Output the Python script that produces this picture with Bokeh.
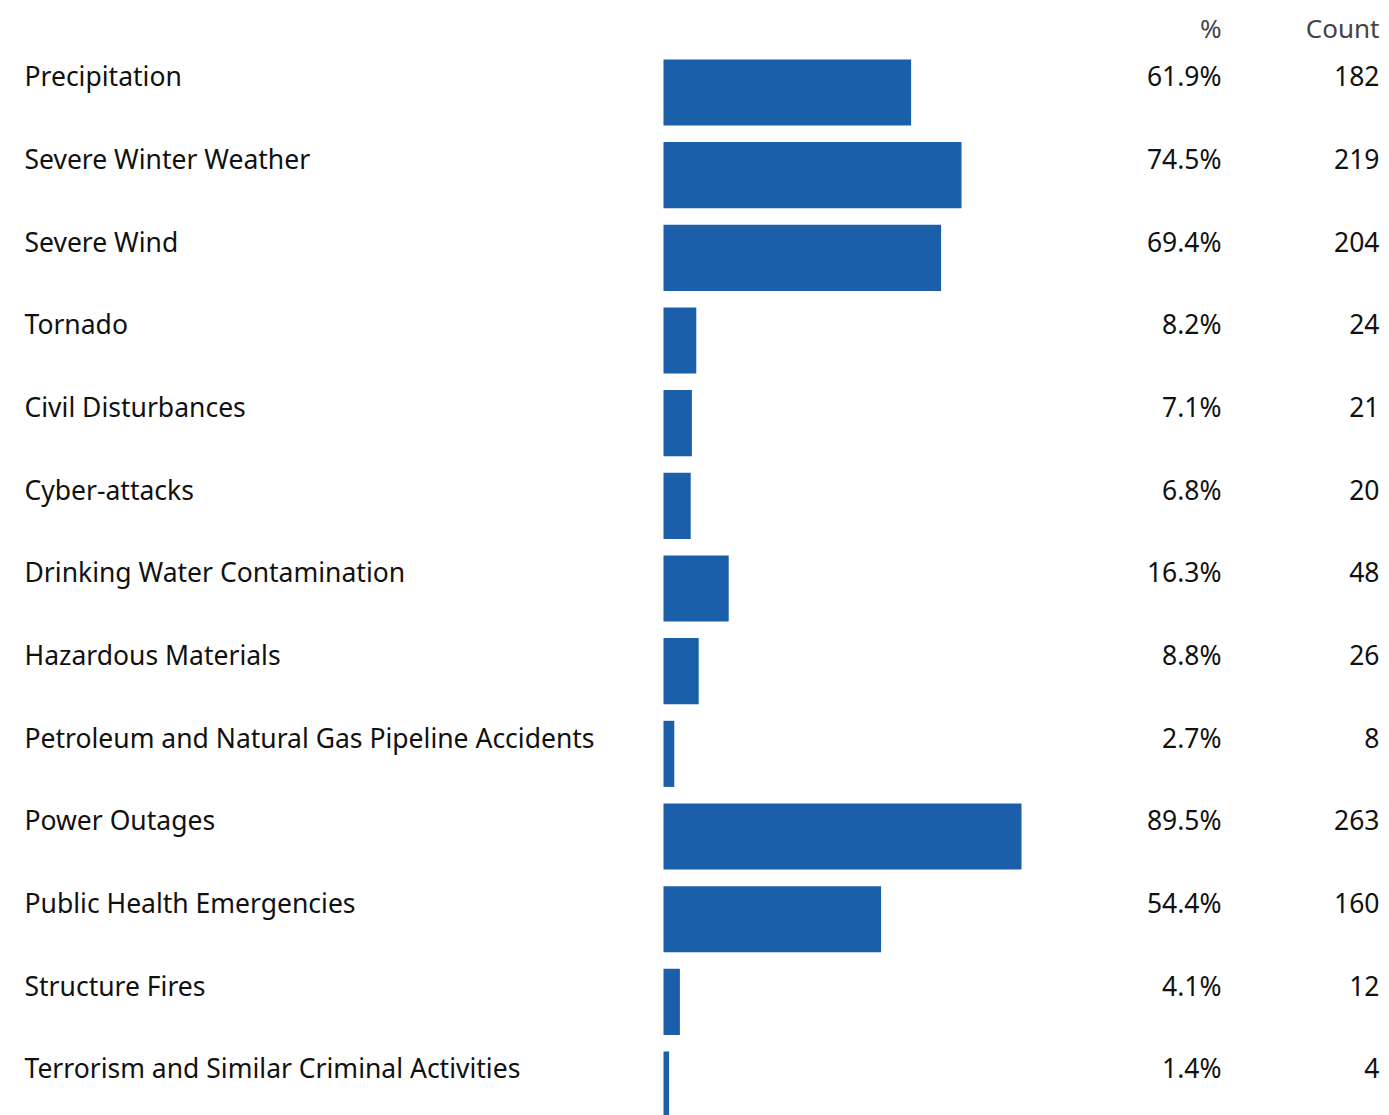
from bokeh.plotting import figure
from bokeh.models import ColumnDataSource, Range1d
from bokeh.core.properties import value
from bokeh.embed import file_html
from bokeh.resources import INLINE

categories = ["Precipitation", "Severe Winter Weather", "Severe Wind", "Tornado",
              "Civil Disturbances", "Cyber-attacks", "Drinking Water Contamination",
              "Hazardous Materials", "Petroleum and Natural Gas Pipeline Accidents",
              "Power Outages", "Public Health Emergencies", "Structure Fires",
              "Terrorism and Similar Criminal Activities"]
percents = [61.9, 74.5, 69.4, 8.2, 7.1, 6.8, 16.3, 8.8, 2.7, 89.5, 54.4, 4.1, 1.4]
counts = [182, 219, 204, 24, 21, 20, 48, 26, 8, 263, 160, 12, 4]
pct_labels = [f"{v:.1f}%" for v in percents]
count_labels = [str(c) for c in counts]
headers = ["%", "Count"]

W, H = 1389, 1115
PX_PER_UNIT_X = 4.0
ZERO_X = 663
ROW = 82.67
FIRST = 92

idx = list(range(len(categories)))
src = ColumnDataSource(dict(y=idx, cat=categories, pct=percents, pl=pct_labels,
                            cl=count_labels, ty=[i - 0.195 for i in idx]))

p = figure(width=W, height=H, output_backend="svg", toolbar_location=None,
           x_range=Range1d(-ZERO_X / PX_PER_UNIT_X, (W - ZERO_X) / PX_PER_UNIT_X),
           y_range=Range1d((H - FIRST) / ROW, -FIRST / ROW),
           min_border=0, border_fill_color="white", background_fill_color="white")
p.axis.visible = False
p.grid.visible = False
p.outline_line_color = None

p.hbar(y="y", left=0, right="pct", height=0.8, source=src,
       fill_color="#1B5EAA", line_color=None)

font = value("Noto Sans")
x_label = (24 - ZERO_X) / PX_PER_UNIT_X
x_pct = (1221 - ZERO_X) / PX_PER_UNIT_X
x_cnt = (1379 - ZERO_X) / PX_PER_UNIT_X

p.text(x=x_label, y="ty", text="cat", source=src, text_font=font,
       text_font_size="26.5px", text_color="#111111", text_baseline="middle",
       text_align="left")
p.text(x=x_pct, y="ty", text="pl", source=src, text_font=font,
       text_font_size="26.5px", text_color="#111111", text_baseline="middle",
       text_align="right")
p.text(x=x_cnt, y="ty", text="cl", source=src, text_font=font,
       text_font_size="26.5px", text_color="#111111", text_baseline="middle",
       text_align="right")

hy = (27 - FIRST) / ROW
hsrc = ColumnDataSource(dict(x=[x_pct, x_cnt], y=[hy, hy], t=headers))
p.text(x="x", y="y", text="t", source=hsrc, text_font=font,
       text_font_size="26px", text_color="#444444", text_baseline="middle",
       text_align="right")

open("out.html", "w").write(file_html(p, INLINE))
